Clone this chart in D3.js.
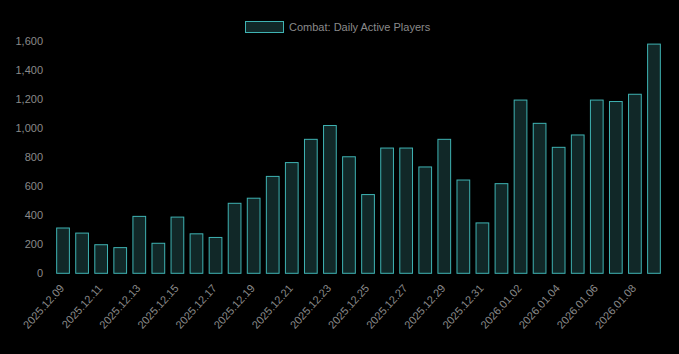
<!DOCTYPE html>
<html>
<head>
<meta charset="utf-8">
<script src="https://cdn.jsdelivr.net/npm/d3@7"></script>
<style>
    body { margin: 0; background: #000; }
    svg { display: block; }
</style>
</head>
<body>
<div id="bar-chart"></div>
<script>
const dates = [
    "2025.12.09", "2025.12.10", "2025.12.11", "2025.12.12", "2025.12.13", "2025.12.14",
    "2025.12.15", "2025.12.16", "2025.12.17", "2025.12.18", "2025.12.19", "2025.12.20",
    "2025.12.21", "2025.12.22", "2025.12.23", "2025.12.24", "2025.12.25", "2025.12.26",
    "2025.12.27", "2025.12.28", "2025.12.29", "2025.12.30", "2025.12.31", "2026.01.01",
    "2026.01.02", "2026.01.03", "2026.01.04", "2026.01.05", "2026.01.06", "2026.01.07",
    "2026.01.08", "2026.01.09"
];
const players = [
    315, 280, 200, 180, 395, 210, 390, 275, 250, 485, 520, 670,
    765, 925, 1020, 805, 545, 865, 865, 735, 925, 645, 350, 620,
    1195, 1035, 870, 955, 1195, 1185, 1235, 1580
];
const yTicks = [0, 200, 400, 600, 800, 1000, 1200, 1400, 1600];
const seriesName = "Combat: Daily Active Players";

const width = 679, height = 354;
const plot = { left: 53.5, right: 663.5, top: 40.7, bottom: 273.3 };
const textColor = "#8a8a8a";
const barFill = "#112828";
const barStroke = "#3fb3b3";

let svg = d3.select("#bar-chart")
    .append("svg")
    .attr("width", width)
    .attr("height", height)
    .style("font-family", "'Liberation Sans', Arial, Helvetica, sans-serif")
    .style("font-size", "11px");

let xScale = d3.scaleBand()
    .domain(dates)
    .range([plot.left, plot.right])
    .paddingInner(0.28)
    .paddingOuter(0.14);

let yScale = d3.scaleLinear()
    .domain([0, 1600])
    .range([plot.bottom, plot.top]);

// y axis labels
svg.append("g")
    .selectAll("text")
    .data(yTicks)
    .join("text")
    .attr("x", 43)
    .attr("y", d => yScale(d))
    .attr("dy", "0.35em")
    .attr("text-anchor", "end")
    .attr("fill", textColor)
    .text(d => d3.format(",")(d));

// x axis labels, every other date
svg.append("g")
    .selectAll("text")
    .data(dates.filter((d, i) => i % 2 == 0))
    .join("text")
    .attr("transform", d => "translate(" + (xScale(d) + xScale.bandwidth() / 2 - 1) + "," + 286 + ") rotate(-48)")
    .attr("dy", "0.35em")
    .attr("text-anchor", "end")
    .attr("fill", textColor)
    .text(d => d);

// bars
svg.append("g")
    .selectAll("rect")
    .data(players)
    .join("rect")
    .attr("x", (d, i) => xScale(dates[i]) + 0.5)
    .attr("y", d => yScale(d) + 0.5)
    .attr("width", xScale.bandwidth() - 1)
    .attr("height", d => plot.bottom - yScale(d) - 0.5)
    .attr("fill", barFill)
    .attr("stroke", barStroke)
    .attr("stroke-width", 1);

// legend
let legend = svg.append("g");
legend.append("rect")
    .attr("x", 245.5)
    .attr("y", 21.5)
    .attr("width", 38)
    .attr("height", 11)
    .attr("fill", barFill)
    .attr("stroke", barStroke);
legend.append("text")
    .attr("x", 289)
    .attr("y", 27)
    .attr("dy", "0.35em")
    .attr("fill", textColor)
    .text(seriesName);
</script>
</body>
</html>
